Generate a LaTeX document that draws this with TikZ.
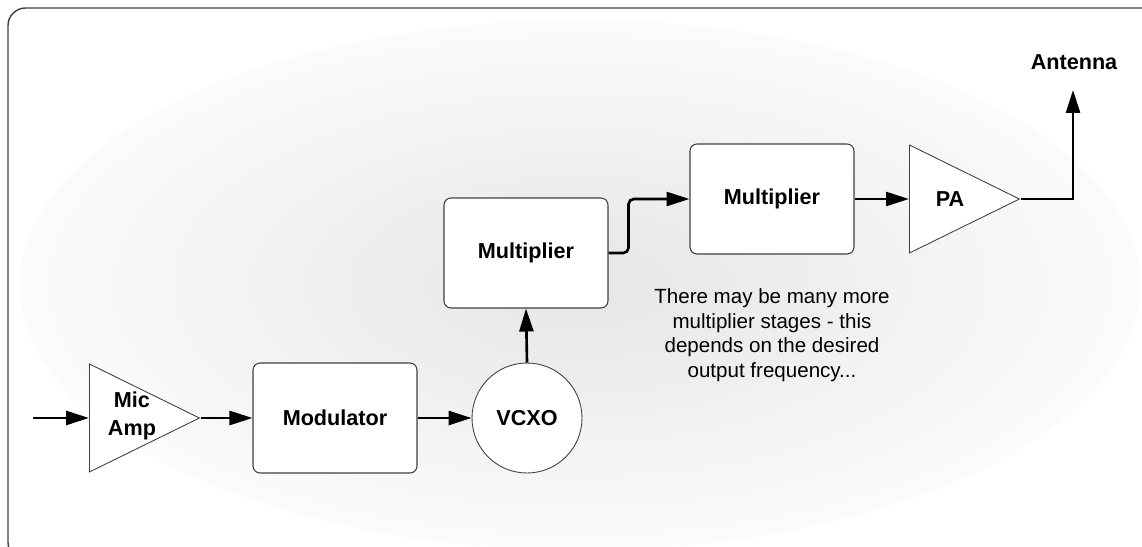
\documentclass[tikz,border=0pt]{standalone}
\usepackage{fontspec}
\setmainfont{Liberation Sans}
\usepackage{tikz}
\usetikzlibrary{shapes,arrows.meta,positioning,calc}
\usepackage{xcolor}

\begin{document}
\begin{tikzpicture}[
    x=0.02cm, y=-0.02cm,
    lbl/.style={font=\bfseries\fontsize{12.3}{15.6}\selectfont, align=center, inner sep=0pt},
    block/.style={rectangle, draw=black!75, line width=0.6pt, fill=white, rounded corners=4pt,
        minimum width=3.28cm, minimum height=2.2cm, inner sep=0pt, lbl},
    amp/.style={isosceles triangle, isosceles triangle stretches, draw=black!75, line width=0.5pt,
        fill=white, minimum width=2.16cm, minimum height=2.2cm, inner sep=0pt, anchor=lower side},
    osc/.style={circle, draw=black!75, line width=0.5pt, fill=white, minimum size=2.2cm, inner sep=0pt, lbl},
    note/.style={font=\fontsize{11.7}{14}\selectfont, align=center, inner sep=0pt},
    wire/.style={line width=1.5pt, -{Triangle[length=4.6mm, width=2.8mm]}},
]
    \useasboundingbox (0,0) rectangle (1142,547);
    \begin{scope}
        \clip (0,0) rectangle (1142,547);
        % soft grey glow behind the chain
        \foreach \k in {0,...,39} {
            \pgfmathsetmacro\s{1-\k/41}
            \pgfmathsetmacro\g{1.5+8.5*(1-\s)}
            \fill[black!\g] (580,285) ellipse [x radius=560*\s, y radius=265*\s];
        }
        \draw[black!75, line width=0.8pt, rounded corners=10pt] (8,8) rectangle (1160,560);
    \end{scope}

    \node[amp] (mic) at (89,418) {};
    \node[lbl] (mictxt) at (132,416) {Mic\\Amp};
    \node[block] (mod) at (335,418) {Modulator};
    \node[osc] (vcxo) at (527,418) {VCXO};
    \node[block] (mult1) at (526,253) {Multiplier};
    \node[block] (mult2) at (772,199) {Multiplier};
    \node[amp] (pa) at (909,199) {};
    \node[lbl] (patxt) at (950,199) {PA};
    \node[lbl] (anttxt) at (1074,62) {Antenna};
    \node[note] (remark) at (772,335) {There may be many more\\
        multiplier stages - this\\
        depends on the desired\\
        output frequency...};

    \coordinate (in) at (33,418);
    \coordinate (ant) at (1073,90);

    \draw[wire] (in) -- (mic.lower side);
    \draw[wire] (mic.apex) -- (mod.west);
    \draw[wire] (mod.east) -- (vcxo.west);
    \draw[wire] (vcxo.north) -- (mult1.south);
    \draw[wire, rounded corners=3pt] (mult1.east) -- ++(20,0) |- (mult2.west);
    \draw[wire] (mult2.east) -- (pa.lower side);
    \draw[wire] (pa.apex) -| (ant);
\end{tikzpicture}
\end{document}
